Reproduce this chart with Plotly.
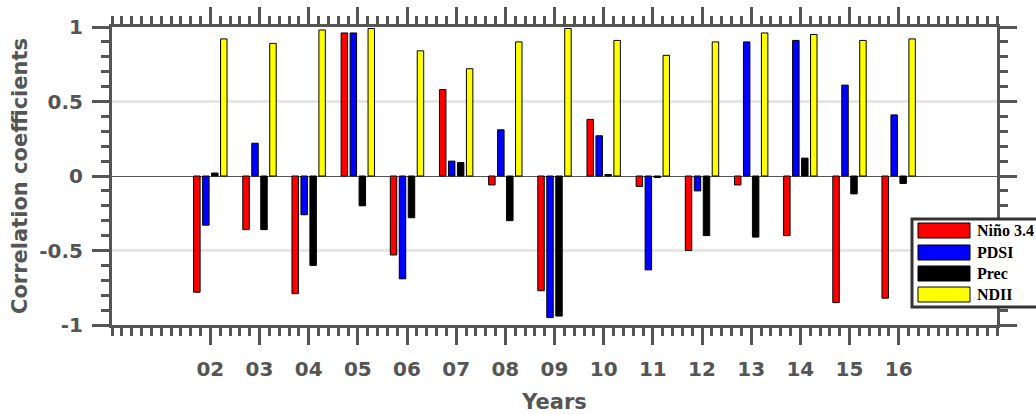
import plotly.graph_objects as go

# ---------------- data ----------------
years = [2, 3, 4, 5, 6, 7, 8, 9, 10, 11, 12, 13, 14, 15, 16]
year_labels = ["02", "03", "04", "05", "06", "07", "08", "09", "10",
               "11", "12", "13", "14", "15", "16"]

nino34 = [-0.78, -0.36, -0.79, 0.96, -0.53, 0.58, -0.06, -0.77, 0.38,
          -0.07, -0.50, -0.06, -0.40, -0.85, -0.82]
pdsi = [-0.33, 0.22, -0.26, 0.96, -0.69, 0.10, 0.31, -0.95, 0.27,
        -0.63, -0.10, 0.90, 0.91, 0.61, 0.41]
prec = [0.02, -0.36, -0.60, -0.20, -0.28, 0.09, -0.30, -0.94, 0.01,
        -0.01, -0.40, -0.41, 0.12, -0.12, -0.05]
ndii = [0.92, 0.89, 0.98, 0.99, 0.84, 0.72, 0.90, 0.99, 0.91,
        0.81, 0.90, 0.96, 0.95, 0.91, 0.92]

series_names = ["Niño 3.4", "PDSI", "Prec", "NDII"]
series_values = [nino34, pdsi, prec, ndii]
series_colors = ["#ff0000", "#0000ff", "#000000", "#ffff00"]

y_tickvals = [-1, -0.5, 0, 0.5, 1]
y_ticktext = ["-1", "-0.5", "0", "0.5", "1"]

# ---------------- figure ----------------
W, H = 1036, 414
L, R, T, B = 112, 39, 27, 89
AX = "#555555"
FONT = dict(family="DejaVu Sans", size=20, color=AX, weight="bold")
TFONT = dict(family="DejaVu Sans", size=21, color=AX, weight="bold")

fig = go.Figure()
for name, vals, col in zip(series_names, series_values, series_colors):
    fig.add_trace(go.Bar(
        x=years, y=vals, name=name,
        marker=dict(color=col, line=dict(color="#000000", width=1)),
        showlegend=False,
    ))

fig.update_layout(
    width=W, height=H,
    margin=dict(l=L, r=R, t=T, b=B, pad=0, autoexpand=False),
    paper_bgcolor="white", plot_bgcolor="white",
    barmode="group", bargap=0.27, bargroupgap=0.28,
    font=FONT,
)

fig.update_xaxes(
    automargin=False,
    range=[0, 18], tickmode="array", tickvals=years, ticktext=year_labels,
    ticks="outside", ticklen=17, tickwidth=2.5, tickcolor=AX,
    showline=True, linecolor=AX, linewidth=3, mirror="ticks",
    showgrid=False, zeroline=False,
    minor=dict(ticks="outside", dtick=0.2, tick0=0, ticklen=8,
               tickwidth=2.5, tickcolor=AX, showgrid=False),
    tickfont=FONT, ticklabelstandoff=7,
    title=dict(text="Years", font=TFONT, standoff=20),
)
fig.update_yaxes(
    automargin=False,
    range=[-1, 1], tickmode="array", tickvals=y_tickvals, ticktext=y_ticktext,
    ticks="outside", ticklen=17, tickwidth=2.5, tickcolor=AX,
    showline=True, linecolor=AX, linewidth=3, mirror="ticks",
    showgrid=True, gridcolor="#e6e6e6", gridwidth=2.5,
    zeroline=True, zerolinecolor=AX, zerolinewidth=1,
    minor=dict(ticks="outside", dtick=0.1, tick0=0, ticklen=8,
               tickwidth=2.5, tickcolor=AX, showgrid=False),
    tickfont=FONT, ticklabelstandoff=5,
    title=dict(text="Correlation coefficients", font=TFONT, standoff=6),
)

# ---------------- manual legend (wide swatches) ----------------
pw, ph = W - L - R, H - T - B


def px_x(p):
    return (p - L) / pw


def px_y(p):
    return (H - B - p) / ph


fig.add_shape(type="rect", xref="paper", yref="paper",
              x0=px_x(912), x1=px_x(1060), y0=px_y(307), y1=px_y(219),
              fillcolor="white", line=dict(color="#333333", width=3),
              layer="above")
row_tops = [223, 245, 266, 287]
for name, col, top in zip(series_names, series_colors, row_tops):
    fig.add_shape(type="rect", xref="paper", yref="paper",
                  x0=px_x(918), x1=px_x(970), y0=px_y(top + 15), y1=px_y(top),
                  fillcolor=col, line=dict(color="#000000", width=1),
                  layer="above")
    fig.add_annotation(xref="paper", yref="paper", x=px_x(975),
                       y=px_y(top + 7.5), text=name, showarrow=False,
                       xanchor="left", yanchor="middle",
                       font=dict(family="Liberation Serif", size=16,
                                 color="#000000", weight="bold"))

fig.write_html("out.html")
